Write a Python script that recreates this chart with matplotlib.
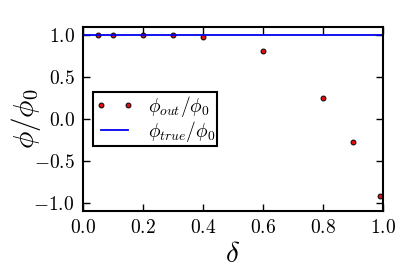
import numpy as np
import matplotlib
matplotlib.use("Agg")
import matplotlib.pyplot as plt
from matplotlib.ticker import FormatStrFormatter

# data
delta = [0.05, 0.1, 0.2, 0.3, 0.4, 0.6, 0.8, 0.9, 0.99]
phi_out = [1.0, 1.0, 1.0, 1.0, 0.98, 0.81, 0.25, -0.27, -0.92]
phi_true = 1.0

plt.rcParams['mathtext.fontset'] = 'cm'
plt.rcParams['font.family'] = 'serif'
plt.rcParams['font.serif'] = ['DejaVu Serif']

fig = plt.figure(figsize=(3.99, 2.68), dpi=100)
ax = fig.add_axes([0.208, 0.213, 0.751, 0.686])

ax.plot(delta, phi_out, 'o', color='#e01010', markeredgecolor='black',
        markeredgewidth=0.7, markersize=3.5, label=r'$\phi_{out}/\phi_0$')
ax.axhline(phi_true, color='#0000ee', linewidth=1.3, label=r'$\phi_{true}/\phi_0$')

ax.set_xlim(0, 1)
ax.set_ylim(-1.1, 1.1)
ax.set_xticks([0.0, 0.2, 0.4, 0.6, 0.8, 1.0])
ax.set_yticks([-1.0, -0.5, 0.0, 0.5, 1.0])
ax.xaxis.set_major_formatter(FormatStrFormatter('$%.1f$'))
ax.yaxis.set_major_formatter(FormatStrFormatter('$%.1f$'))
ax.tick_params(direction='in', top=True, right=True, length=5, width=1,
               labelsize=14, pad=6)
for s in ax.spines.values():
    s.set_linewidth(1.5)

ax.set_xlabel(r'$\delta$', fontsize=21, labelpad=2)
ax.set_ylabel(r'$\phi/\phi_0$', fontsize=21)
ax.yaxis.set_label_coords(-0.135, 0.5)

leg = ax.legend(loc='center left', numpoints=2, fontsize=14, fancybox=False,
                framealpha=1, borderaxespad=0.5, handlelength=2.0,
                handletextpad=0.7, labelspacing=0.0, borderpad=0.12)
leg.get_frame().set_edgecolor('black')
leg.get_frame().set_linewidth(1.5)

fig.savefig('out.png', dpi=100)
